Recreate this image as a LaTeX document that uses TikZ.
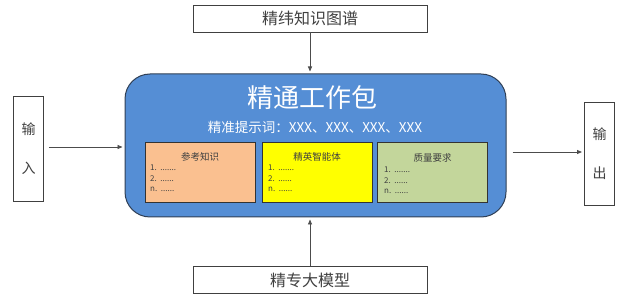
\documentclass[tikz,border=0pt]{standalone}
\usepackage{fontspec}
\setmainfont{Noto Sans CJK SC}
\usetikzlibrary{positioning, arrows.meta}
\definecolor{pkgblue}{HTML}{558ED5}
\definecolor{pkgedge}{HTML}{2F3F55}
\definecolor{knowfill}{HTML}{FAC090}
\definecolor{agentfill}{HTML}{FFFF00}
\definecolor{qualfill}{HTML}{C3D69B}
\definecolor{txt}{HTML}{404040}

\begin{document}
\begin{tikzpicture}[
                x=1pt, y=-1pt,
                >={Triangle[length=5pt, width=4pt]},
                srcbox/.style={draw=txt, fill=white, line width=0.9pt, minimum width=234pt, minimum height=27pt, inner sep=0pt, text=txt, font=\fontsize{16}{18}\selectfont},
                sidebox/.style={draw=txt, fill=white, line width=0.9pt, minimum width=30pt, inner sep=0pt, align=center, text=txt, font=\fontsize{14}{39}\selectfont},
                partbox/.style={draw=black!80, line width=1pt, minimum width=110pt, minimum height=60pt, inner sep=0pt},
                parttitle/.style={text=txt, inner sep=0pt, font=\fontsize{9.5}{11}\selectfont},
                partlist/.style={anchor=north west, align=left, text=txt, inner sep=0pt, font=\fontsize{8}{10.5}\selectfont},
                link/.style={->, draw=black!70, line width=0.8pt}
            ]
            \useasboundingbox (0,0) rectangle (624,299);
            % Quellen oben und unten
            \node[srcbox] (kg) at (310, 18.5) {精纬知识图谱};
            \node[srcbox] (llm) at (310, 280) {精专大模型};
            % Arbeitspaket
            \node[draw=pkgedge, fill=pkgblue, line width=1pt, rounded corners=25pt, minimum width=381pt, minimum height=143pt, inner sep=0pt] (pkg) at (315.5, 145.5) {};
            \node[text=white, inner sep=0pt, font=\fontsize{26}{28}\selectfont] (pkgtitle) at (312, 98) {精通工作包};
            \node[text=white, inner sep=0pt, font=\fontsize{13.5}{15}\selectfont] (prompt) at (315, 127) {精准提示词：XXX、XXX、XXX、XXX};
            % Teilboxen
            \node[partbox, fill=knowfill] (know) at (200, 173) {};
            \node[partbox, fill=agentfill] (agent) at (317, 173) {};
            \node[partbox, fill=qualfill] (qual) at (432.5, 173) {};
            \node[parttitle] (knowtitle) at (200, 157) {参考知识};
            \node[parttitle] (agenttitle) at (317, 157) {精英智能体};
            \node[parttitle] (qualtitle) at (432.5, 158) {质量要求};
            \node[partlist] (knowlist) at (150, 165) {1.\ \ .......\\2.\ \ ......\\n.\ \ ......};
            \node[partlist] (agentlist) at (268, 165) {1.\ \ .......\\2.\ \ ......\\n.\ \ ......};
            \node[partlist] (quallist) at (384, 167) {1.\ \ .......\\2.\ \ ......\\n.\ \ ......};
            % Ein- und Ausgabe
            \node[sidebox, minimum height=105pt] (in) at (28.5, 148.5) {输\\入};
            \node[sidebox, minimum height=103pt] (out) at (599.5, 153.5) {输\\出};
            % Pfeile
            \draw[link, shorten >=2pt] (kg.south) -- (kg.south |- pkg.north);
            \draw[link, shorten >=2pt] (llm.north) -- (llm.north |- pkg.south);
            \draw[link, shorten <=5pt, shorten >=2pt] (in.east |- 0,147) -- (pkg.west |- 0,147);
            \draw[link, shorten <=6pt, shorten >=2pt] (pkg.east |- 0,152) -- (out.west |- 0,152);
\end{tikzpicture}
\end{document}
